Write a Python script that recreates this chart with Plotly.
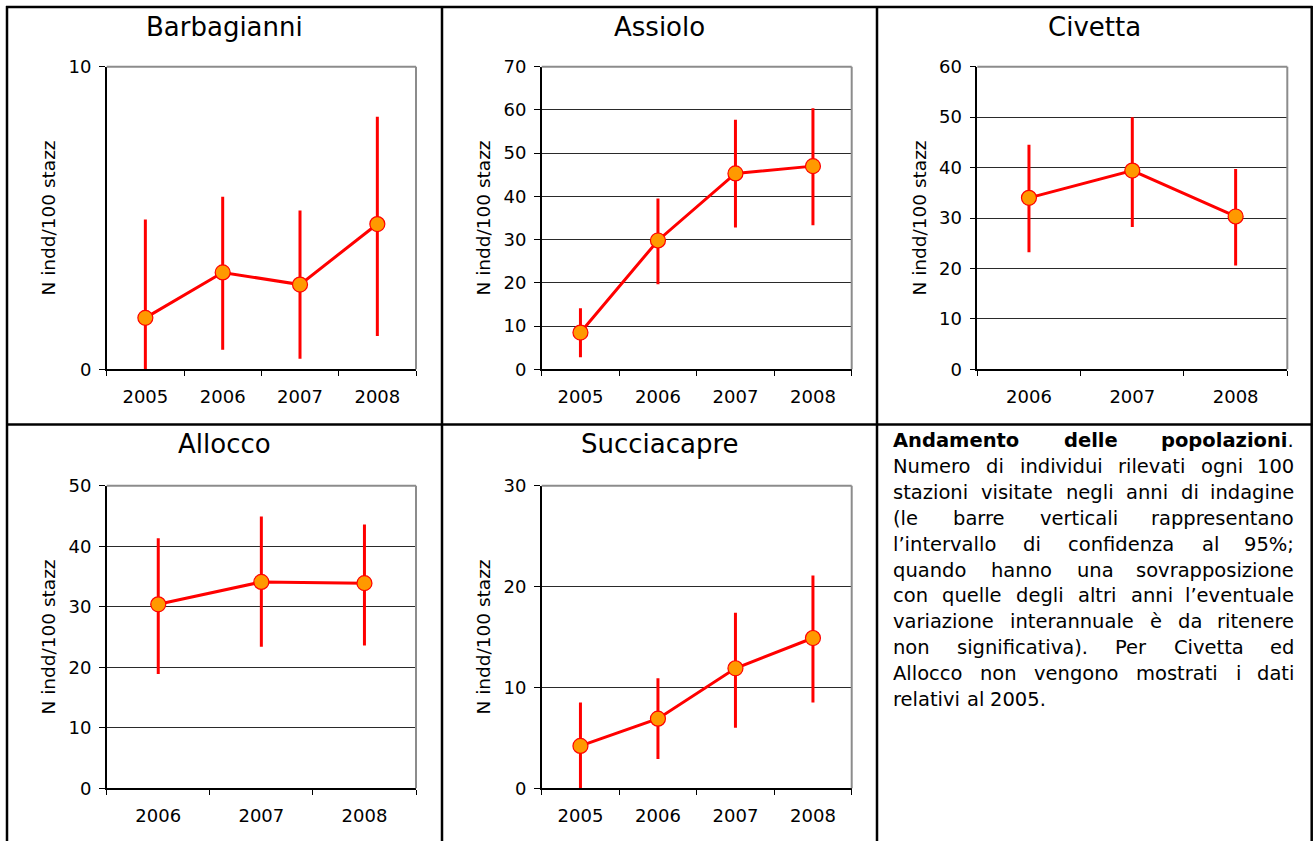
import plotly.graph_objects as go

W, H = 1313, 841

# ---------------- data ----------------
years4 = ["2005", "2006", "2007", "2008"]
years3 = ["2006", "2007", "2008"]

species = ["Barbagianni", "Assiolo", "Civetta", "Allocco", "Succiacapre"]

barbagianni_mean = [1.7, 3.2, 2.8, 4.8]
barbagianni_low = [-0.3, 0.65, 0.35, 1.1]
barbagianni_high = [4.95, 5.7, 5.25, 8.35]

assiolo_mean = [8.5, 29.8, 45.3, 47.0]
assiolo_low = [2.8, 19.7, 32.8, 33.3]
assiolo_high = [14.1, 39.5, 57.7, 60.4]

civetta_mean = [34.0, 39.4, 30.3]
civetta_low = [23.2, 28.2, 20.6]
civetta_high = [44.5, 50.0, 39.7]

allocco_mean = [30.4, 34.1, 33.9]
allocco_low = [18.9, 23.4, 23.6]
allocco_high = [41.3, 44.9, 43.6]

succiacapre_mean = [4.2, 6.9, 11.9, 14.9]
succiacapre_low = [-0.1, 2.9, 6.0, 8.5]
succiacapre_high = [8.5, 10.9, 17.4, 21.1]

y_max = [10, 70, 60, 50, 30]
y_label = "N indd/100 stazz"

caption_lines = [
    "Andamento delle popolazioni.",
    "Numero di individui rilevati ogni 100",
    "stazioni visitate negli anni di indagine",
    "(le barre verticali rappresentano",
    "l’intervallo di confidenza al 95%;",
    "quando hanno una sovrapposizione",
    "con quelle degli altri anni l’eventuale",
    "variazione interannuale è da ritenere",
    "non significativa). Per Civetta ed",
    "Allocco non vengono mostrati i dati",
    "relativi al 2005.",
]

# ---------------- layout geometry (pixels) ----------------
FONT = "DejaVu Sans"
TICK_SIZE = 18
YLAB_SIZE = 18.5
TITLE_SIZE = 26
plot_boxes = [  # left, right, top, bottom
    (106.7, 416.0, 66.7, 369.3),
    (541.7, 851.7, 66.7, 369.3),
    (977.3, 1287.3, 66.7, 369.3),
    (106.7, 416.0, 485.7, 788.3),
    (541.7, 851.7, 485.7, 788.3),
]
title_pos = [(224.5, 27), (659.5, 27), (1094.5, 27), (224.5, 443.5), (659.5, 443.5)]

series = [
    (years4, barbagianni_mean, barbagianni_low, barbagianni_high),
    (years4, assiolo_mean, assiolo_low, assiolo_high),
    (years3, civetta_mean, civetta_low, civetta_high),
    (years3, allocco_mean, allocco_low, allocco_high),
    (years4, succiacapre_mean, succiacapre_low, succiacapre_high),
]


def px_x(v):
    return v / W


def px_y(v):
    return 1 - v / H


fig = go.Figure()
layout = dict(
    width=W, height=H,
    margin=dict(l=0, r=0, t=0, b=0, pad=0, autoexpand=False),
    paper_bgcolor="white", plot_bgcolor="white",
    showlegend=False,
    font=dict(family=FONT, color="black"),
)
annotations = []
shapes = []

for i, (cats, mean, low, high) in enumerate(series):
    n = i + 1
    sfx = "" if n == 1 else str(n)
    l, r, t, b = plot_boxes[i]
    fig.add_trace(go.Scatter(
        x=cats, y=mean,
        mode="lines+markers",
        line=dict(color="#FF0000", width=3),
        marker=dict(size=15, color="#FF9900", line=dict(color="#FF0000", width=1.2)),
        error_y=dict(type="data", symmetric=False,
                     array=[h - m for h, m in zip(high, mean)],
                     arrayminus=[m - lo for m, lo in zip(mean, low)],
                     color="#FF0000", thickness=3, width=0),
        xaxis="x" + sfx, yaxis="y" + sfx,
        cliponaxis=False, hoverinfo="skip",
    ))
    layout["xaxis" + sfx] = dict(
        domain=[px_x(l), px_x(r)], anchor="y" + sfx,
        type="category", range=[-0.5, len(cats) - 0.5],
        tickson="boundaries", ticks="outside", ticklen=5, tickcolor="black", tickwidth=1,
        showline=True, linecolor="black", linewidth=1.5,
        showgrid=False, zeroline=False, automargin=False,
        tickfont=dict(family=FONT, size=TICK_SIZE, color="black"),
        ticklabelstandoff=10,
        fixedrange=True,
    )
    layout["yaxis" + sfx] = dict(
        domain=[px_y(b), px_y(t)], anchor="x" + sfx,
        range=[0, y_max[i]], dtick=10, tick0=0,
        ticks="outside", ticklen=6, tickcolor="black", tickwidth=1,
        showline=True, linecolor="black", linewidth=1.5,
        showgrid=True, gridcolor="#2a2a2a", gridwidth=1,
        zeroline=False, automargin=False,
        tickfont=dict(family=FONT, size=TICK_SIZE, color="black"),
        ticklabelstandoff=4,
        title=dict(text=y_label, font=dict(family=FONT, size=YLAB_SIZE, color="black"), standoff=8),
        fixedrange=True,
    )
    # grey top/right plot-area border
    shapes.append(dict(type="line", xref="paper", yref="paper", layer="above",
                       x0=px_x(l), x1=px_x(r), y0=px_y(t), y1=px_y(t),
                       line=dict(color="#8c8c8c", width=2)))
    shapes.append(dict(type="line", xref="paper", yref="paper", layer="above",
                       x0=px_x(r), x1=px_x(r), y0=px_y(t), y1=px_y(b),
                       line=dict(color="#8c8c8c", width=2)))
    tx, ty = title_pos[i]
    annotations.append(dict(text=species[i], x=px_x(tx), y=px_y(ty), xref="paper", yref="paper",
                            xanchor="center", yanchor="middle", showarrow=False,
                            font=dict(family=FONT, size=TITLE_SIZE, color="black")))

# table borders
def hline(y, x0, x1):
    shapes.append(dict(type="line", xref="paper", yref="paper", layer="above",
                       x0=px_x(x0), x1=px_x(x1), y0=px_y(y), y1=px_y(y),
                       line=dict(color="black", width=2.5)))


def vline(x, y0, y1):
    shapes.append(dict(type="line", xref="paper", yref="paper", layer="above",
                       x0=px_x(x), x1=px_x(x), y0=px_y(y0), y1=px_y(y1),
                       line=dict(color="black", width=2.5)))


hline(7, 6, 1312.5)
hline(424.5, 6, 1312.5)
vline(7, 6, 841)
vline(442, 6, 841)
vline(877, 6, 841)
vline(1311.7, 6, 841)

# ---------------- justified caption ----------------
REG = {' ': .318, '(': .390, ')': .390, '%': .950, '.': .318, ';': .337, '’': .318, 'è': .615,
       'A': .684, 'C': .698, 'N': .748, 'P': .603,
       'a': .613, 'b': .635, 'c': .550, 'd': .635, 'e': .615, 'f': .352, 'g': .635, 'h': .634,
       'i': .278, 'l': .278, 'm': .974, 'n': .634, 'o': .612, 'p': .635, 'q': .635, 'r': .411,
       's': .521, 't': .392, 'u': .634, 'v': .592, 'z': .525}
BOLD = {'A': .774, 'n': .712, 'd': .716, 'a': .675, 'm': 1.042, 'e': .678, 't': .478,
        'o': .687, 'l': .343, 'p': .716, 'z': .593, 'i': .343}
CAP_SIZE = 19.5
CAP_LEFT, CAP_RIGHT = 892.0, 1295.0
CAP_Y0, CAP_DY = 441.0, 25.8


def char_w(c, bold):
    if c.isdigit():
        return .636
    if bold and c in BOLD:
        return BOLD[c]
    return REG.get(c, .6)


def word_parts(word, bold_line):
    if bold_line:
        core = word.rstrip('.')
        tail = word[len(core):]
        w = sum(char_w(c, True) for c in core) + sum(char_w(c, False) for c in tail)
        return "<b>" + core + "</b>" + tail, w * CAP_SIZE
    return word, sum(char_w(c, False) for c in word) * CAP_SIZE


for li, line in enumerate(caption_lines):
    y = CAP_Y0 + li * CAP_DY
    words = line.split(" ")
    parts = [word_parts(w, li == 0) for w in words]
    last = li == len(caption_lines) - 1
    if last or len(parts) == 1:
        gap = REG[' '] * CAP_SIZE
    else:
        gap = (CAP_RIGHT - CAP_LEFT - sum(p[1] for p in parts)) / (len(parts) - 1)
    x = CAP_LEFT
    for wi, (txt, wpx) in enumerate(parts):
        if (not last) and wi == len(parts) - 1 and len(parts) > 1:
            annotations.append(dict(text=txt, x=px_x(CAP_RIGHT), y=px_y(y), xref="paper", yref="paper",
                                    xanchor="right", yanchor="middle", showarrow=False, borderpad=0,
                                    font=dict(family=FONT, size=CAP_SIZE, color="black")))
        else:
            annotations.append(dict(text=txt, x=px_x(x), y=px_y(y), xref="paper", yref="paper",
                                    xanchor="left", yanchor="middle", showarrow=False, borderpad=0,
                                    font=dict(family=FONT, size=CAP_SIZE, color="black")))
        x += wpx + gap

layout["annotations"] = annotations
layout["shapes"] = shapes
fig.update_layout(**layout)

post_js = (
    "document.documentElement.style.margin='0';"
    "document.documentElement.style.overflow='hidden';"
    "document.body.style.margin='0';document.body.style.padding='0';"
    "document.body.style.overflow='hidden';"
    "var d=document.getElementById('{plot_id}');"
    "d.style.position='absolute';d.style.left='0px';d.style.top='0px';"
)
fig.write_html("out.html", post_script=post_js, config={"displayModeBar": False})
